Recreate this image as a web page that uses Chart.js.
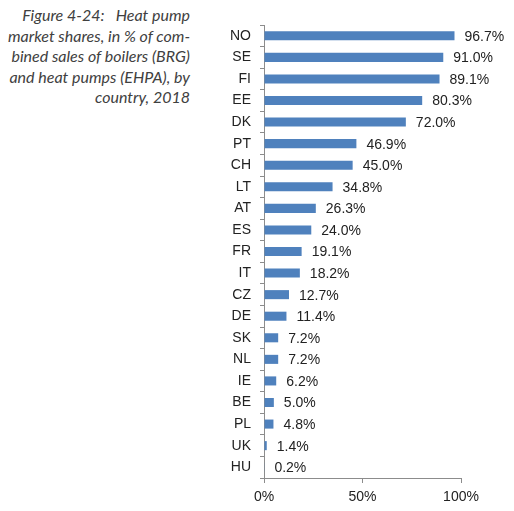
<!DOCTYPE html>
<html>
<head>
<meta charset="utf-8">
<script src="https://cdn.jsdelivr.net/npm/chart.js@4"></script>
<style>
  html, body { margin: 0; padding: 0; background: #fff; }
  #wrap { position: relative; width: 514px; height: 511px; }
  #title {
    position: absolute; top: 5px; right: 324px; width: 200px;
    text-align: right; font-family: Lato, "Open Sans", sans-serif; font-style: italic;
    font-size: 16px; line-height: 20.5px; color: #404040; white-space: nowrap;
  }
  canvas { position: absolute; left: 0; top: 0; }
</style>
</head>
<body>
<div id="wrap">
  <div id="title">Figure 4-24:&nbsp;&nbsp;&nbsp;Heat pump<br>market shares, in % of com-<br>bined sales of boilers (BRG)<br>and heat pumps (EHPA), by<br>country, 2018</div>
  <canvas id="chart" width="514" height="511"></canvas>
</div>
<script>
const countries = ['NO', 'SE', 'FI', 'EE', 'DK', 'PT', 'CH', 'LT', 'AT', 'ES', 'FR',
                   'IT', 'CZ', 'DE', 'SK', 'NL', 'IE', 'BE', 'PL', 'UK', 'HU'];
const shares = [96.7, 91.0, 89.1, 80.3, 72.0, 46.9, 45.0, 34.8, 26.3, 24.0, 19.1,
                18.2, 12.7, 11.4, 7.2, 7.2, 6.2, 5.0, 4.8, 1.4, 0.2];
const xTickValues = [0, 50, 100];

const FONT = "'Liberation Sans', Arial, sans-serif";

// value labels to the right of each bar
const valueLabels = {
  id: 'valueLabels',
  afterDatasetsDraw(chart) {
    const ctx = chart.ctx;
    const meta = chart.getDatasetMeta(0);
    ctx.save();
    ctx.font = '14px ' + FONT;
    ctx.fillStyle = '#222';
    ctx.textAlign = 'left';
    ctx.textBaseline = 'middle';
    meta.data.forEach((bar, i) => {
      ctx.fillText(shares[i].toFixed(1) + '%', bar.x + 10, bar.y + 1);
    });
    ctx.restore();
  }
};

new Chart(document.getElementById('chart'), {
  type: 'bar',
  data: {
    labels: countries,
    datasets: [{
      data: shares,
      backgroundColor: '#4f81bd',
      borderWidth: 0,
      categoryPercentage: 1,
      barPercentage: 0.42
    }]
  },
  options: {
    indexAxis: 'y',
    responsive: false,
    animation: false,
    layout: { padding: { left: 220, right: 53, top: 25, bottom: 0 } },
    plugins: {
      legend: { display: false },
      tooltip: { enabled: false }
    },
    scales: {
      x: {
        min: 0,
        max: 100,
        afterBuildTicks(scale) {
          scale.ticks = xTickValues.map(v => ({ value: v }));
        },
        afterFit(scale) { scale.height = 33; },
        border: { color: '#8c8c8c', width: 1 },
        grid: { drawOnChartArea: false, tickLength: 5, color: '#8c8c8c' },
        ticks: {
          padding: 6,
          color: '#222',
          font: { family: FONT, size: 14 },
          callback: v => v + '%'
        }
      },
      y: {
        afterFit(scale) { scale.width = 44; },
        border: { color: '#8c8c8c', width: 1 },
        grid: { drawOnChartArea: false, offset: true, tickLength: 4, color: '#8c8c8c' },
        ticks: {
          padding: 9,
          color: '#222',
          font: { family: FONT, size: 14 }
        }
      }
    }
  },
  plugins: [valueLabels]
});
</script>
</body>
</html>
